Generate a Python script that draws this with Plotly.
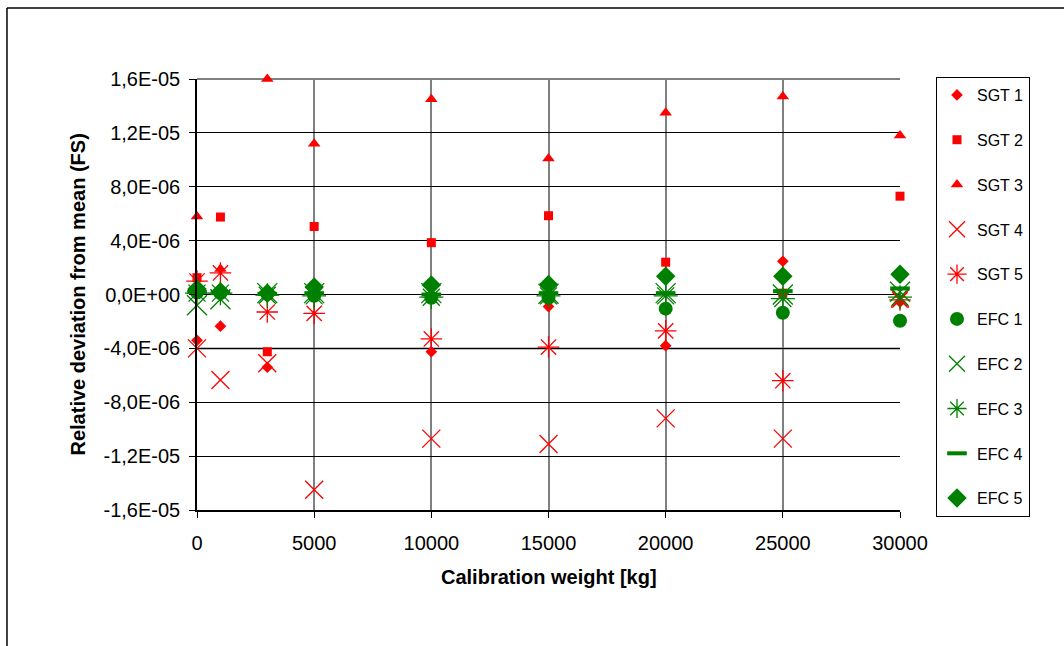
import plotly.graph_objects as go

weights = [0, 1000, 3000, 5000, 10000, 15000, 20000, 25000, 30000]

# values in units of 1E-06 (FS)
sgt1 = [-3.4, -2.35, -5.4, -0.2, -4.25, -0.9, -3.8, 2.47, -0.55]
sgt2 = [1.25, 5.75, -4.25, 5.05, 3.85, 5.85, 2.4, 0.1, 7.3]
sgt3 = [5.8, 1.9, 16.0, 11.2, 14.5, 10.1, 13.5, 14.7, 11.8]
sgt4 = [-4.0, -6.35, -5.1, -14.5, -10.7, -11.1, -9.2, -10.7, -0.3]
sgt5 = [1.0, 1.6, -1.3, -1.4, -3.3, -3.9, -2.7, -6.4, -0.4]
efc1 = [0.15, 0.1, 0.05, -0.1, -0.25, -0.25, -1.05, -1.35, -1.95]
efc2 = [-0.8, -0.35, 0.1, 0.1, 0.1, 0.05, 0.1, 0.0, 0.2]
efc3 = [0.1, 0.1, -0.05, -0.1, -0.2, -0.1, -0.1, -0.3, -0.2]
efc4 = [0.2, 0.1, 0.05, 0.1, 0.0, 0.1, 0.1, 0.25, 0.45]
efc5 = [0.4, 0.2, 0.1, 0.55, 0.7, 0.75, 1.35, 1.35, 1.5]

names = ["SGT 1", "SGT 2", "SGT 3", "SGT 4", "SGT 5",
         "EFC 1", "EFC 2", "EFC 3", "EFC 4", "EFC 5"]
series = [sgt1, sgt2, sgt3, sgt4, sgt5, efc1, efc2, efc3, efc4, efc5]

ytickvals = [16e-6, 12e-6, 8e-6, 4e-6, 0, -4e-6, -8e-6, -12e-6, -16e-6]
yticktext = ["1,6E-05", "1,2E-05", "8,0E-06", "4,0E-06", "0,0E+00",
             "-4,0E-06", "-8,0E-06", "-1,2E-05", "-1,6E-05"]
xtickvals = [0, 5000, 10000, 15000, 20000, 25000, 30000]

RED = "#FF0000"
GREEN = "#008000"
styles = [
    dict(symbol="diamond", size=9, color=RED),
    dict(symbol="square", size=9, color=RED),
    dict(symbol="triangle-up", size=11, color=RED),
    dict(symbol="x-thin-open", size=18, color=RED, line=dict(color=RED, width=1.3)),
    dict(symbol="asterisk-open", size=18, color=RED, line=dict(color=RED, width=1.3)),
    dict(symbol="circle", size=14, color=GREEN),
    dict(symbol="x-thin-open", size=20, color=GREEN, line=dict(color=GREEN, width=1.3)),
    dict(symbol="asterisk-open", size=20, color=GREEN, line=dict(color=GREEN, width=1.3)),
    dict(symbol="line-ew-open", size=14, color=GREEN, line=dict(color=GREEN, width=4)),
    dict(symbol="diamond", size=15, color=GREEN),
]

fig = go.Figure()
for i, (nm, vals, st) in enumerate(zip(names, series, styles)):
    fig.add_trace(go.Scatter(
        x=weights, y=[v * 1e-6 for v in vals], name=nm, mode="markers",
        marker=st, cliponaxis=False, legendgroup="g%d" % i))

FONT = "Liberation Sans, Arial, sans-serif"

shapes = [
    dict(type="line", xref="paper", yref="y", x0=0, x1=1, y0=-4e-6, y1=-4e-6,
         line=dict(color="#808080", width=2), layer="below"),
    dict(type="line", xref="paper", yref="paper", x0=0, x1=1, y0=1, y1=1,
         line=dict(color="#808080", width=2), layer="below"),
    dict(type="line", xref="paper", yref="paper", x0=-0.2703, x1=1.235, y0=1.1647, y1=1.1647,
         line=dict(color="black", width=1.5)),
    dict(type="line", xref="paper", yref="paper", x0=-0.2703, x1=-0.2703, y0=1.1647, y1=-0.36,
         line=dict(color="black", width=1.5)),
]

fig.update_layout(
    width=1064, height=646,
    margin=dict(l=197, r=164, t=79, b=136),
    paper_bgcolor="white", plot_bgcolor="white",
    font=dict(family=FONT, color="black", size=20),
    showlegend=True,
    legend=dict(x=1.0512, xanchor="left", y=1.0046, yanchor="top",
                bordercolor="black", borderwidth=1, bgcolor="white",
                font=dict(family=FONT, size=16, color="black"),
                tracegroupgap=21, maxheight=600),
    shapes=shapes,
    annotations=[
        dict(text="<b>Calibration weight [kg]</b>", xref="paper", yref="paper",
             x=0.5, y=(510 - 577) / 431, showarrow=False, yanchor="middle",
             font=dict(family=FONT, size=20)),
        dict(text="<b>Relative deviation from mean (FS)</b>", xref="paper", yref="paper",
             x=(77 - 197) / 703, y=0.5, showarrow=False, textangle=-90,
             xanchor="center", yanchor="middle", font=dict(family=FONT, size=20)),
    ],
)

fig.update_xaxes(range=[0, 30000], tickvals=xtickvals, ticktext=[str(v) for v in xtickvals],
                 showgrid=True, gridcolor="#808080", gridwidth=2,
                 showline=True, linecolor="black", linewidth=1.5,
                 ticks="outside", ticklen=6, tickcolor="black", tickwidth=1,
                 ticklabelstandoff=8, zeroline=False,
                 tickfont=dict(family=FONT, size=20))
fig.update_yaxes(range=[-16e-6, 16e-6], tickvals=ytickvals, ticktext=yticktext,
                 showgrid=True, gridcolor="black", gridwidth=1,
                 showline=True, linecolor="black", linewidth=1.5,
                 ticks="outside", ticklen=6, tickcolor="black", tickwidth=1,
                 ticklabelstandoff=5, zeroline=False,
                 tickfont=dict(family=FONT, size=20))

fig.write_html("out.html", config={"displayModeBar": False},
               post_script="document.body.style.margin='0px';")
